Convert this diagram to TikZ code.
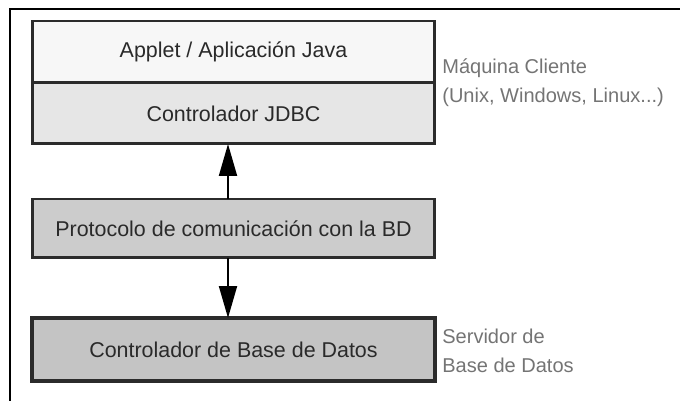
\documentclass[tikz,border=0pt]{standalone}
\usepackage{fontspec}
\setmainfont{Liberation Sans}
\usetikzlibrary{arrows.meta}
\definecolor{boxline}{HTML}{2B2B2B}
\definecolor{textgray}{HTML}{2A2A2A}
\definecolor{notegray}{HTML}{747474}
\definecolor{fillA}{HTML}{F7F7F7}
\definecolor{fillB}{HTML}{E6E6E6}
\definecolor{fillC}{HTML}{CCCCCC}
\definecolor{fillD}{HTML}{C4C4C4}
\tikzset{
  capa/.style={draw=boxline, line width=1.7pt, minimum width=8.06cm, inner sep=0pt, outer sep=0pt,
    text=textgray, font=\fontsize{12.2}{14}\selectfont},
  nota/.style={anchor=west, align=left, inner sep=0pt, text=notegray, font=\fontsize{11.4}{16.5}\selectfont},
}
\begin{document}
\begin{tikzpicture}[x=0.02cm, y=-0.02cm, >={Triangle[length=0.64cm,width=0.36cm]}]
  \useasboundingbox (0,0) rectangle (680,401);
  \draw[line width=1.2pt] (680,9) -- (10,9) -- (10,401);
  \node[capa, fill=fillA, minimum height=1.24cm] (applet) at (233.5,52) {Applet / Aplicación Java};
  \node[capa, fill=fillB, minimum height=1.22cm] (jdbc) at (233.5,113.5) {Controlador JDBC};
  \node[capa, fill=fillC, minimum height=1.18cm] (proto) at (233.5,228.5) {Protocolo de comunicación con la BD};
  \node[capa, fill=fillD, line width=2.2pt, minimum height=1.26cm] (servidor) at (233.5,349.5) {Controlador de Base de Datos};
  \coordinate (eje) at (228,0);
  \draw[->, line width=1.1pt] (proto.north -| eje) -- (jdbc.south -| eje);
  \draw[->, line width=1.1pt] (proto.south -| eje) -- (servidor.north -| eje);
  \node[nota] (cliente) at (442,82.5) {Máquina Cliente\\(Unix, Windows, Linux...)};
  \node[nota] (server) at (442,351) {Servidor de\\Base de Datos};
\end{tikzpicture}
\end{document}
